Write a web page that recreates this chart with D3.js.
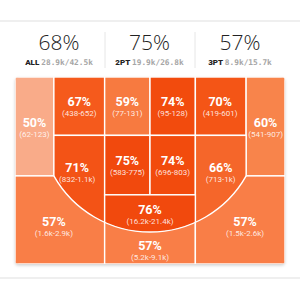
<!DOCTYPE html>
<html lang="en">
<head>
<meta charset="UTF-8">
<title>Shot chart</title>
<script src="https://cdnjs.cloudflare.com/ajax/libs/d3/7.8.5/d3.min.js"></script>
<style>
  body { margin: 0; background: #fff; }
  svg { display: block; }
</style>
</head>
<body>
<script>
// summary header
const summaryLabels = ["ALL", "2PT", "3PT"];
const summaryPct = [68, 75, 57];
const summaryMade = ["28.9k", "19.9k", "8.9k"];
const summaryAtt = ["42.5k", "26.8k", "15.7k"];

// zones
const zoneNames = ["L corner 3", "L elbow", "L high post", "R high post", "R elbow", "R corner 3",
                   "L baseline mid", "L paint", "R paint", "R baseline mid", "restricted",
                   "L wing 3", "top 3", "R wing 3"];
const zonePct = [50, 67, 59, 74, 70, 60, 71, 75, 74, 66, 76, 57, 57, 57];
const zoneRange = ["62-123", "438-652", "77-131", "95-128", "419-601", "541-907",
                   "832-1.1k", "583-775", "696-803", "713-1k", "16.2k-21.4k",
                   "1.6k-2.9k", "5.2k-9.1k", "1.5k-2.6k"];

const W = 300, H = 300;
const svg = d3.select("body").append("svg").attr("width", W).attr("height", H);

// court geometry in "feet"
const colX = [0, 7.2, 16.6, 25, 33.4, 42.8, 50];
const rowY = [0, 10.8, 21.8, 34.6];
const cornerDepth = 18.3;
const arcC = [25, 8.28], arcR = 20.43;

const xs = d3.scaleLinear().domain([0, 50]).range([15, 285]);
const ys = d3.scaleLinear().domain([0, 34.6]).range([77, 264]);
const k = xs(1) - xs(0);

const color = d3.scaleLinear()
  .domain([50, 57, 59, 60, 66, 67, 75])
  .range(["#f9ab89", "#f97e47", "#f77a3f", "#f8844c", "#f5662a", "#f55a1d", "#f14a0d"]);

// zone shapes: [x0, y0, x1, y1, clip, labelX, labelY]
const shapes = [
  [colX[0], rowY[0], colX[1], cornerDepth, null, 3.6, 9.5],
  [colX[1], rowY[0], colX[2], rowY[1], null, 11.9, 5.6],
  [colX[2], rowY[0], colX[3], rowY[1], null, 20.8, 5.6],
  [colX[3], rowY[0], colX[4], rowY[1], null, 29.2, 5.6],
  [colX[4], rowY[0], colX[5], rowY[1], null, 38.0, 5.6],
  [colX[5], rowY[0], colX[6], cornerDepth, null, 46.4, 9.5],
  [colX[1], rowY[1], colX[2], rowY[3], "in", 11.5, 17.8],
  [colX[2], rowY[1], colX[3], rowY[2], null, 20.8, 16.5],
  [colX[3], rowY[1], colX[4], rowY[2], null, 29.2, 16.5],
  [colX[4], rowY[1], colX[5], rowY[3], "in", 38.1, 17.9],
  [colX[2], rowY[2], colX[4], rowY[3], "in", 25, 25.7],
  [colX[0], cornerDepth, colX[2], rowY[3], "out", 7.2, 27.8],
  [colX[2], rowY[2], colX[4], rowY[3], "out", 25, 32.2],
  [colX[4], cornerDepth, colX[6], rowY[3], "out", 42.6, 27.8]
];

const defs = svg.append("defs");
defs.append("clipPath").attr("id", "court")
  .append("rect")
  .attr("x", xs(0)).attr("y", ys(0))
  .attr("width", xs(50) - xs(0)).attr("height", ys(34.6) - ys(0))
  .attr("rx", 4);
defs.append("clipPath").attr("id", "in")
  .append("circle")
  .attr("cx", xs(arcC[0])).attr("cy", ys(arcC[1])).attr("r", arcR * k);
const outPath = d3.path();
outPath.rect(0, 0, W, H);
outPath.moveTo(xs(arcC[0]) + arcR * k, ys(arcC[1]));
outPath.arc(xs(arcC[0]), ys(arcC[1]), arcR * k, 0, 2 * Math.PI);
defs.append("clipPath").attr("id", "out")
  .append("path").attr("d", outPath.toString()).attr("clip-rule", "evenodd");

const shadow = defs.append("filter").attr("id", "shadow")
  .attr("x", "-10%").attr("y", "-10%").attr("width", "120%").attr("height", "120%");
shadow.append("feDropShadow").attr("dx", 0).attr("dy", 1.5)
  .attr("stdDeviation", 1.5).attr("flood-color", "#000").attr("flood-opacity", 0.18);

// header lines
svg.append("line").attr("x1", 0).attr("x2", W).attr("y1", 21).attr("y2", 21)
  .attr("stroke", "#efefef").attr("stroke-width", 2);
svg.append("line").attr("x1", 0).attr("x2", W).attr("y1", 278).attr("y2", 278)
  .attr("stroke", "#efefef").attr("stroke-width", 2);

const hx = d3.scalePoint().domain(summaryLabels).range([59, 240]);
[105, 195].forEach(x => {
  svg.append("line").attr("x1", x).attr("x2", x).attr("y1", 32).attr("y2", 68)
    .attr("stroke", "#e6e6e6").attr("stroke-width", 1);
});

const head = svg.selectAll("g.head").data(summaryLabels).join("g")
  .attr("class", "head")
  .attr("transform", d => `translate(${hx(d)},0)`);
head.append("text")
  .attr("y", 50).attr("text-anchor", "middle")
  .attr("font-family", "'Open Sans', sans-serif").attr("font-weight", 300)
  .attr("font-size", 21).attr("fill", "#222")
  .text((d, i) => summaryPct[i] + "%");
const sub = head.append("text")
  .attr("y", 65).attr("text-anchor", "middle")
  .attr("font-size", 8);
sub.append("tspan")
  .attr("font-family", "Roboto, sans-serif").attr("font-weight", 900).attr("fill", "#222")
  .text(d => d + " ");
sub.append("tspan")
  .attr("font-family", "'DejaVu Sans Mono', monospace").attr("font-weight", 700).attr("fill", "#a5a5a5")
  .attr("font-size", 7.8)
  .text((d, i) => summaryMade[i] + "/" + summaryAtt[i]);

// court
const court = svg.append("g").attr("filter", "url(#shadow)");
const inner = court.append("g").attr("clip-path", "url(#court)");

const zones = inner.selectAll("g.zone").data(zonePct).join("g")
  .attr("class", "zone")
  .attr("clip-path", (d, i) => shapes[i][4] ? `url(#${shapes[i][4]})` : null);
zones.append("rect")
  .attr("x", (d, i) => xs(shapes[i][0]))
  .attr("y", (d, i) => ys(shapes[i][1]))
  .attr("width", (d, i) => xs(shapes[i][2]) - xs(shapes[i][0]))
  .attr("height", (d, i) => ys(shapes[i][3]) - ys(shapes[i][1]))
  .attr("fill", d => color(d))
  .attr("stroke", "#fff").attr("stroke-width", 1.4);

// three point arc, only the part below the corner lines
const a0 = Math.atan2(cornerDepth - arcC[1], colX[5] - arcC[0]);
const arc = d3.path();
arc.arc(xs(arcC[0]), ys(arcC[1]), arcR * k, a0, Math.PI - a0);
inner.append("path")
  .attr("d", arc.toString())
  .attr("fill", "none").attr("stroke", "#fff").attr("stroke-width", 1.4);

// labels
const labels = svg.selectAll("g.lab").data(zonePct).join("g")
  .attr("class", "lab")
  .attr("transform", (d, i) => `translate(${xs(shapes[i][5])},${ys(shapes[i][6])})`)
  .attr("text-anchor", "middle").attr("fill", "#fff");
labels.append("text")
  .attr("y", -1.5)
  .attr("font-family", "Roboto, sans-serif").attr("font-weight", 700)
  .attr("font-size", 12.5)
  .text(d => d + "%");
labels.append("text")
  .attr("y", 8.6)
  .attr("font-family", "Roboto, sans-serif").attr("font-weight", 400)
  .attr("font-size", 8).attr("fill-opacity", 0.85)
  .text((d, i) => "(" + zoneRange[i] + ")");
</script>
</body>
</html>
